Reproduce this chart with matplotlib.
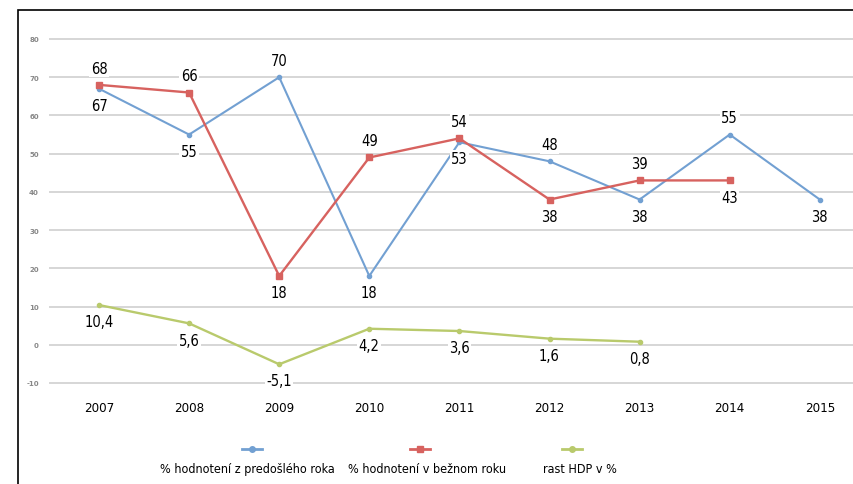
import matplotlib
matplotlib.use("Agg")
import matplotlib.pyplot as plt
from matplotlib.lines import Line2D
from matplotlib.patches import Rectangle

years = ["2007", "2008", "2009", "2010", "2011", "2012", "2013", "2014", "2015"]
prev_year = [67, 55, 70, 18, 53, 48, 38, 55, 38]
prev_labels = ["67", "55", "70", "18", "53", "48", "38", "55", "38"]
curr_year = [68, 66, 18, 49, 54, 38, 43, 43]
curr_labels = ["68", "66", "18", "49", "54", "38", "39", "43"]
gdp = [10.4, 5.6, -5.1, 4.2, 3.6, 1.6, 0.8]
gdp_labels = ["10,4", "5,6", "-5,1", "4,2", "3,6", "1,6", "0,8"]
y_ticks = [-10, 0, 10, 20, 30, 40, 50, 60, 70, 80]
legend_names = ["% hodnotení z predošlého roka", "% hodnotení v bežnom roku", "rast HDP v %"]

# label placement: +1 above, -1 below
prev_pos = [-1, -1, 1, -1, -1, 1, -1, 1, -1]
curr_pos = [1, 1, -1, 1, 1, -1, 1, -1]
gdp_pos = [-1, -1, -1, -1, -1, -1, -1]

BLUE = "#72a0d2"
RED = "#d7625f"
GREEN = "#b9ca6c"
FONT = "DejaVu Sans"
STRETCH = "condensed"

W, H = 854, 485
fig = plt.figure(figsize=(W / 100, H / 100), dpi=100)
ax_left, ax_right = 50, 854
ax_top, ax_bot = 40, 384
ax = fig.add_axes([ax_left / W, 1 - ax_bot / H, (ax_right - ax_left) / W, (ax_bot - ax_top) / H])

x = list(range(len(years)))
ax.set_xlim((ax_left - 99) / 90.1, (ax_right - 99) / 90.1)
ax.set_ylim(-10, 80)
ax.set_yticks(y_ticks)
ax.set_yticklabels([str(v) for v in y_ticks], fontsize=5, color="#888888", fontweight="bold")
ax.set_xticks(x)
ax.set_xticklabels(years, fontsize=9.5, fontfamily=FONT, fontstretch=STRETCH)
ax.tick_params(axis="both", length=0)
ax.tick_params(axis="x", pad=13)
ax.tick_params(axis="y", pad=8)
for s in ax.spines.values():
    s.set_visible(False)
ax.grid(axis="y", color="#d6d6d6", lw=1.4)
ax.set_axisbelow(True)
for gl in ax.get_ygridlines():
    gl.set_clip_on(False)

ax.plot(x[:len(prev_year)], prev_year, color=BLUE, lw=1.5, marker="o", ms=3, zorder=3)
ax.plot(x[:len(curr_year)], curr_year, color=RED, lw=1.7, marker="s", ms=4, zorder=4)
ax.plot(x[:len(gdp)], gdp, color=GREEN, lw=1.7, marker="o", ms=3, zorder=3)

def labels(vals, labs, pos):
    for i, (v, l, p) in enumerate(zip(vals, labs, pos)):
        ax.annotate(l, (i, v), xytext=(0, 12 * p), textcoords="offset points",
                    ha="center", va="center", fontsize=10.5, fontfamily=FONT,
                    fontstretch=STRETCH, zorder=6,
                    bbox=dict(boxstyle="square,pad=0.1", fc="white", ec="none"))

labels(prev_year, prev_labels, prev_pos)
labels(curr_year, curr_labels, curr_pos)
labels(gdp, gdp_labels, gdp_pos)

# legend
leg_x = [252, 420, 572]
leg_tx = [247, 427, 580]
leg_cols = [BLUE, RED, GREEN]
leg_mk = ["o", "s", "o"]
for lx, tx, c, m, name in zip(leg_x, leg_tx, leg_cols, leg_mk, legend_names):
    fig.add_artist(Line2D([(lx - 10) / W, (lx + 10) / W], [1 - 450 / H, 1 - 450 / H],
                          color=c, lw=2, transform=fig.transFigure))
    fig.add_artist(Line2D([lx / W], [1 - 450 / H], color=c, marker=m, ms=4,
                          transform=fig.transFigure))
    fig.text(tx / W, 1 - 470 / H, name, ha="center", va="center", fontsize=9,
             fontfamily=FONT, fontstretch=STRETCH)

# outer frame
fig.add_artist(Rectangle((18 / W, -0.1), 1.2, 1 - 11 / H + 0.1, transform=fig.transFigure,
                         fill=False, ec="black", lw=1.2))

fig.savefig("out.png", dpi=100)
